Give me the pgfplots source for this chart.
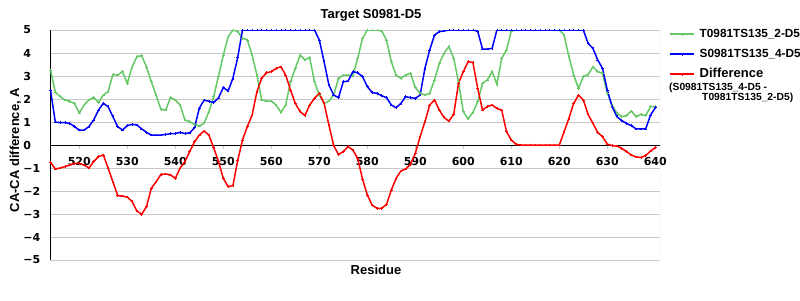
\documentclass[border=0pt]{standalone}
\usepackage{fontspec}
\setmainfont{Liberation Sans}
\newfontfamily\dvs{DejaVu Sans}
\usepackage{pgfplots}
\usepackage{pgfplotstable}
\pgfplotsset{compat=1.18}
\definecolor{cgreen}{RGB}{100,200,100}
\definecolor{cgrid}{RGB}{200,200,200}
\newcommand{\yl}[1]{\makebox[16pt][l]{#1}}
\pgfplotstableread{
r g b d
514 3.26 2.39 -0.75
515 2.30 1.00 -1.04
516 2.10 0.97 -1.00
517 1.96 0.97 -0.94
518 1.90 0.94 -0.87
519 1.80 0.80 -0.80
520 1.40 0.65 -0.80
521 1.74 0.65 -0.87
522 1.96 0.80 -1.00
523 2.06 1.09 -0.72
524 1.85 1.52 -0.51
525 2.17 1.81 -0.43
526 2.32 1.67 -1.00
527 3.07 1.23 -1.60
528 3.04 0.80 -2.20
529 3.19 0.65 -2.22
530 2.68 0.84 -2.26
531 3.40 0.90 -2.46
532 3.84 0.87 -2.87
533 3.88 0.70 -3.01
534 3.40 0.55 -2.68
535 2.75 0.43 -1.88
536 2.17 0.43 -1.60
537 1.55 0.43 -1.28
538 1.52 0.46 -1.26
539 2.06 0.49 -1.30
540 1.96 0.50 -1.45
541 1.74 0.55 -1.00
542 1.09 0.50 -0.72
543 1.01 0.53 -0.29
544 0.90 0.75 0.14
545 0.82 1.60 0.43
546 0.95 1.95 0.61
547 1.45 1.90 0.43
548 2.10 1.85 -0.12
549 3.00 2.05 -0.72
550 3.90 2.50 -1.45
551 4.70 2.35 -1.81
552 5.00 2.90 -1.77
553 4.93 3.80 -0.68
554 4.64 5.00 0.22
555 4.57 5.00 0.80
556 3.91 5.00 1.30
557 3.04 5.00 2.32
558 1.96 5.00 2.90
559 1.91 5.00 3.14
560 1.91 5.00 3.19
561 1.74 5.00 3.33
562 1.42 5.00 3.40
563 1.74 5.00 3.04
564 2.75 5.00 2.39
565 3.33 5.00 1.81
566 3.91 5.00 1.45
567 3.70 5.00 1.28
568 3.80 5.00 1.74
569 2.75 5.00 2.03
570 2.17 4.57 2.25
571 1.81 3.62 1.81
572 1.91 2.61 0.87
573 2.17 2.17 -0.03
574 2.90 2.06 -0.41
575 3.04 2.75 -0.29
576 3.04 2.78 -0.07
577 3.00 3.19 -0.22
578 3.77 3.14 -0.58
579 4.64 2.97 -1.48
580 5.00 2.54 -2.17
581 5.00 2.28 -2.61
582 5.00 2.25 -2.75
583 4.96 2.14 -2.75
584 4.57 2.06 -2.58
585 3.62 1.74 -1.96
586 3.04 1.62 -1.45
587 2.90 1.81 -1.13
588 3.04 2.10 -1.04
589 3.12 2.06 -0.84
590 2.49 2.03 -0.36
591 2.25 2.17 0.36
592 2.17 3.33 1.01
593 2.25 4.13 1.74
594 2.83 4.78 1.96
595 3.55 4.93 1.52
596 3.99 4.96 1.19
597 4.28 5.00 1.04
598 3.77 5.00 1.33
599 2.75 5.00 2.68
600 1.45 5.00 3.19
601 1.13 5.00 3.62
602 1.42 5.00 3.59
603 1.88 4.95 2.46
604 2.68 4.17 1.52
605 2.83 4.17 1.67
606 3.19 4.20 1.74
607 2.64 5.00 1.59
608 3.77 5.00 1.52
609 4.13 5.00 0.58
610 4.96 5.00 0.22
611 5.00 5.00 0.03
612 5.00 5.00 0.00
613 5.00 5.00 0.00
614 5.00 5.00 0.00
615 5.00 5.00 0.00
616 5.00 5.00 0.00
617 5.00 5.00 0.00
618 5.00 5.00 0.00
619 5.00 5.00 0.00
620 5.00 5.00 0.00
621 4.78 5.00 0.58
622 3.84 5.00 1.16
623 3.04 5.00 1.81
624 2.46 5.00 2.17
625 2.97 5.00 1.96
626 3.07 4.42 1.33
627 3.40 4.20 0.94
628 3.19 3.70 0.55
629 3.12 3.33 0.36
630 2.25 2.39 0.04
631 1.74 1.67 -0.03
632 1.38 1.23 -0.04
633 1.23 1.06 -0.14
634 1.28 0.94 -0.29
635 1.48 0.84 -0.43
636 1.23 0.70 -0.52
637 1.33 0.70 -0.54
638 1.28 0.70 -0.46
639 1.67 1.30 -0.26
640 1.67 1.62 -0.12
}\data
\begin{document}
\begin{tikzpicture}[x=1pt,y=1pt]
\useasboundingbox (-50.5,-40) rectangle (749.5,260);
\begin{axis}[
  at={(0,0)}, anchor=south west,
  scale only axis, width=609.6pt, height=230pt,
  xmin=514, xmax=641, ymin=-5, ymax=5,
  enlargelimits=false,
  axis x line=middle, axis y line=left,
  axis line style={-, black, line width=0.8pt},
  xtick={520,530,540,550,560,570,580,590,600,610,620,630,640},
  xticklabels={520,530,540,550,560,570,580,590,600,610,620,630,640},
  ytick={-5,-4,-3,-2,-1,0,1,2,3,4,5},
  yticklabels={\yl{−5},\yl{−4},\yl{−3},\yl{−2},\yl{−1},\yl{0},\yl{1},\yl{2},\yl{3},\yl{4},\yl{5}},
  ymajorgrids, major grid style={cgrid, line width=0.8pt},
  ytick style={draw=none},
  xtick style={cgrid, line width=0.8pt},
  tick align=outside, major tick length=4pt,
  xticklabel style={font=\dvs\bfseries\fontsize{11}{11}\selectfont, anchor=north, inner sep=0pt, yshift=-7.8pt},
  yticklabel style={font=\dvs\bfseries\fontsize{11}{11}\selectfont, anchor=east, inner sep=0pt, xshift=-7pt},
  title={Target S0981-D5},
  every axis title/.style={at={(axis description cs:0.5258,1)}, anchor=center, yshift=15pt, font=\bfseries\fontsize{13}{13}\selectfont},
  xlabel={Residue},
  every axis x label/.style={at={(axis description cs:0.534,0)}, anchor=center, yshift=-10pt, font=\bfseries\fontsize{13}{13}\selectfont},
  ylabel={CA-CA difference, A},
  every axis y label/.style={at={(axis description cs:-0.0574,0.478)}, rotate=90, anchor=center, font=\bfseries\fontsize{13}{13}\selectfont},
  legend image code/.code={\draw[mark repeat=2,mark phase=2] plot coordinates {(0pt,0pt) (12pt,0pt) (24pt,0pt)};},
  legend style={at={(axis description cs:1.0146,1.0087)}, anchor=north west, draw=none, fill=none, inner sep=0pt, row sep=8pt, column sep=5pt, font=\bfseries\fontsize{11.8}{11.8}\selectfont, nodes={inner sep=0pt, text height=9pt, text depth=3pt}},
  legend cell align=left,
]
\addplot[cgreen, line width=1.5pt, mark=+, mark size=1.3pt, mark options={line width=0.6pt}] table[x=r, y=g] {\data};
\addlegendentry{T0981TS135\_2-D5}
\addplot[blue, line width=1.5pt, mark=+, mark size=1.3pt, mark options={line width=0.6pt}] table[x=r, y=b] {\data};
\addlegendentry{S0981TS135\_4-D5}
\addplot[red, line width=1.5pt, mark=+, mark size=1.3pt, mark options={line width=0.6pt}] table[x=r, y=d] {\data};
\addlegendentry{\fontsize{13}{13}\selectfont Difference}
\draw[cgrid, line width=0.8pt] (rel axis cs:1,0) -- (rel axis cs:1,1);
\end{axis}
\node[anchor=west, inner sep=0pt, font=\bfseries\fontsize{10.3}{10.3}\selectfont] at (618.5,172.5) {(S0981TS135\_4-D5 -};
\node[anchor=west, inner sep=0pt, font=\bfseries\fontsize{10.3}{10.3}\selectfont] at (651.5,162.5) {T0981TS135\_2-D5)};
\end{tikzpicture}
\end{document}
